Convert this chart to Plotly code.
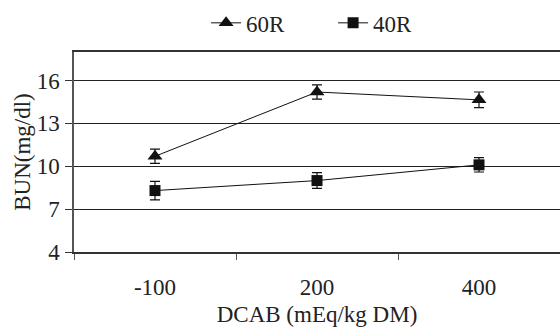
import plotly.graph_objects as go

categories = ["-100", "200", "400"]
r60 = [10.7, 15.2, 14.65]
r60_err = [0.5, 0.5, 0.55]
r40 = [8.3, 9.0, 10.1]
r40_err = [0.65, 0.55, 0.5]
yticks = [4, 7, 10, 13, 16]

font = dict(family="Liberation Serif", size=23, color="#222")

fig = go.Figure()
fig.add_trace(go.Scatter(
    x=categories, y=r60, name="60R", mode="lines+markers",
    line=dict(color="#111", width=1),
    marker=dict(symbol="triangle-up", size=13, color="#111"),
    error_y=dict(type="data", array=r60_err, color="#111", thickness=1.2, width=5),
))
fig.add_trace(go.Scatter(
    x=categories, y=r40, name="40R", mode="lines+markers",
    line=dict(color="#111", width=1),
    marker=dict(symbol="square", size=11, color="#111"),
    error_y=dict(type="data", array=r40_err, color="#111", thickness=1.2, width=5),
))

fig.update_layout(
    width=560, height=327,
    margin=dict(l=74, r=0, t=52, b=75, autoexpand=False),
    paper_bgcolor="white", plot_bgcolor="white",
    font=font,
    legend=dict(orientation="h", xref="container", yref="container",
                x=0.368, xanchor="left", y=0.93, yanchor="middle",
                bgcolor="rgba(0,0,0,0)", font=font, itemwidth=30,
                entrywidth=82, entrywidthmode="pixels"),
    showlegend=True,
)
fig.update_xaxes(
    type="category", range=[-0.5, 2.5], tickson="boundaries",
    showline=True, linecolor="#333", linewidth=1.5, mirror=True,
    ticks="outside", ticklen=6, tickcolor="#555", showgrid=False,
    ticklabelstandoff=14, automargin=False,
    title=dict(text="DCAB (mEq/kg DM)", standoff=11, font=font),
)
fig.update_yaxes(
    range=[4, 18], tickvals=yticks, ticktext=[str(v) for v in yticks],
    showline=True, linecolor="#555", linewidth=1.5,
    ticks="outside", ticklen=7, tickcolor="#333", automargin=False,
    ticklabelstandoff=1,
    showgrid=True, gridcolor="#222", gridwidth=1, zeroline=False,
    title=dict(text="BUN(mg/dl)", standoff=0, font=font),
)
fig.write_html("out.html", config={"displayModeBar": False},
               post_script="document.body.style.margin='0';document.body.style.overflow='hidden';")
